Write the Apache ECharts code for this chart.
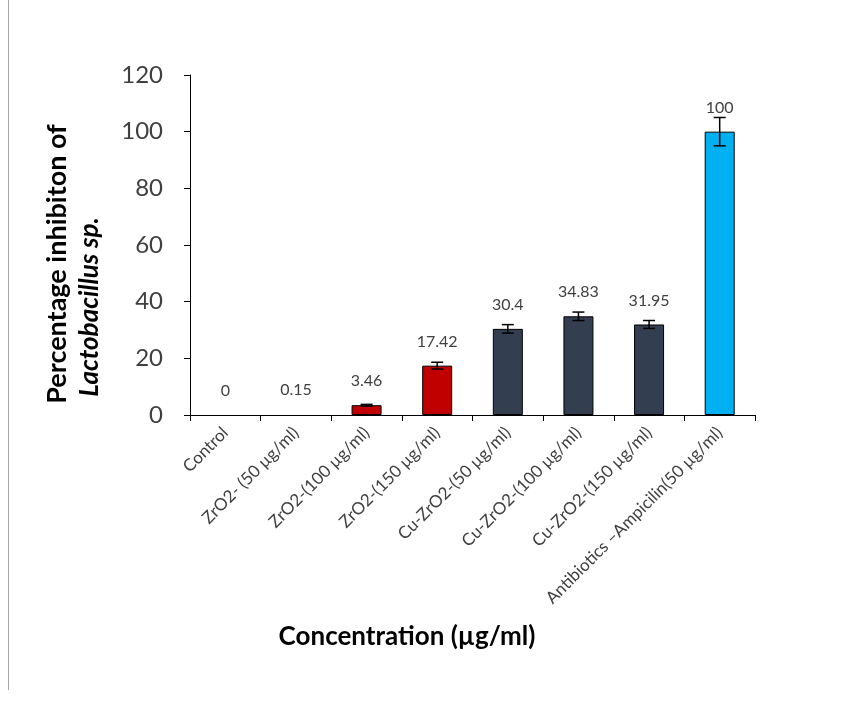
<!DOCTYPE html>
<html><head><meta charset="utf-8">
<script src="https://cdn.jsdelivr.net/npm/echarts@6/dist/echarts.min.js"></script>
<style>html,body{margin:0;padding:0;background:#fff}#c{width:846px;height:706px}</style>
</head><body><div id="c"></div>
<script>
var categories = ['Control','ZrO2- (50 µg/ml)','ZrO2-(100 µg/ml)','ZrO2-(150 µg/ml)','Cu-ZrO2-(50 µg/ml)','Cu-ZrO2-(100 µg/ml)','Cu-ZrO2-(150 µg/ml)','Antibiotics –Ampicilin(50 µg/ml)'];
var values = [0, 0.15, 3.46, 17.42, 30.4, 34.83, 31.95, 100];
var errors = [0, 0, 0.3, 1.2, 1.5, 1.5, 1.4, 5];
var yTicks = [0, 20, 40, 60, 80, 100, 120];
var barColors = ['#C00000','#C00000','#C00000','#C00000','#333F50','#333F50','#333F50','#00B0F0'];

var chart = echarts.init(document.getElementById('c'));
var FONT = 'Lato';
var barData = values.map(function(v,i){
  return {value: v, itemStyle: {color: barColors[i], borderColor: (v > 0.5 ? '#000' : 'transparent'), borderWidth: 1}};
});
var errData = values.map(function(v,i){ return [i, v - errors[i], v + errors[i]]; });

chart.setOption({
  animation: false,
  textStyle: {fontFamily: FONT},
  grid: {left: 190, right: 91, top: 75, bottom: 291, containLabel: false},
  xAxis: {
    type: 'category', data: categories,
    axisLine: {lineStyle: {color: '#000', width: 1}},
    axisTick: {show: true, length: 6, lineStyle: {color: '#000'}},
    axisLabel: {rotate: 45, interval: 0, color: '#404040', fontSize: 17, fontFamily: FONT, margin: 15}
  },
  yAxis: {
    type: 'value', min: 0, max: 120, interval: 20,
    axisLine: {show: true, lineStyle: {color: '#000', width: 1}},
    axisTick: {show: true, length: 6, lineStyle: {color: '#000'}},
    splitLine: {show: false},
    axisLabel: {color: '#404040', fontSize: 24, fontFamily: FONT, margin: 27,
      formatter: function(v){ return yTicks.indexOf(v) >= 0 ? String(v) : ''; }}
  },
  series: [
    {
      type: 'bar', data: barData, barWidth: 30,
      label: {show: true, position: 'top', distance: 16, color: '#404040', fontSize: 16, fontFamily: FONT,
        formatter: function(p){ return String(values[p.dataIndex]); }}
    },
    {
      type: 'custom', data: errData, z: 5,
      renderItem: function(params, api){
        if (api.value(2) - api.value(1) <= 0) return null;
        var lo = api.coord([api.value(0), api.value(1)]);
        var hi = api.coord([api.value(0), api.value(2)]);
        var hw = 6;
        var st = {stroke: '#000', lineWidth: 1.5};
        return {type: 'group', children: [
          {type: 'line', shape: {x1: hi[0], y1: hi[1], x2: lo[0], y2: lo[1]}, style: st},
          {type: 'line', shape: {x1: hi[0]-hw, y1: hi[1], x2: hi[0]+hw, y2: hi[1]}, style: st},
          {type: 'line', shape: {x1: lo[0]-hw, y1: lo[1], x2: lo[0]+hw, y2: lo[1]}, style: st}
        ]};
      }
    }
  ],
  graphic: [
    {type: 'line', shape: {x1: 8.5, y1: 0, x2: 8.5, y2: 690}, style: {stroke: '#A6A6A6', lineWidth: 1}},
    {type: 'text', x: 57, y: 264, rotation: Math.PI/2, style: {text: 'Percentage inhibiton of', font: 'bold 27px Lato', fill: '#000', align: 'center', verticalAlign: 'middle'}},
    {type: 'text', x: 90, y: 307, rotation: Math.PI/2, style: {text: 'Lactobacillus sp.', font: 'italic bold 26px Lato', fill: '#000', align: 'center', verticalAlign: 'middle'}},
    {type: 'text', x: 407, y: 637, style: {text: 'Concentration (µg/ml)', font: 'bold 26px Lato', fill: '#000', align: 'center', verticalAlign: 'middle'}}
  ]
});
</script></body></html>
